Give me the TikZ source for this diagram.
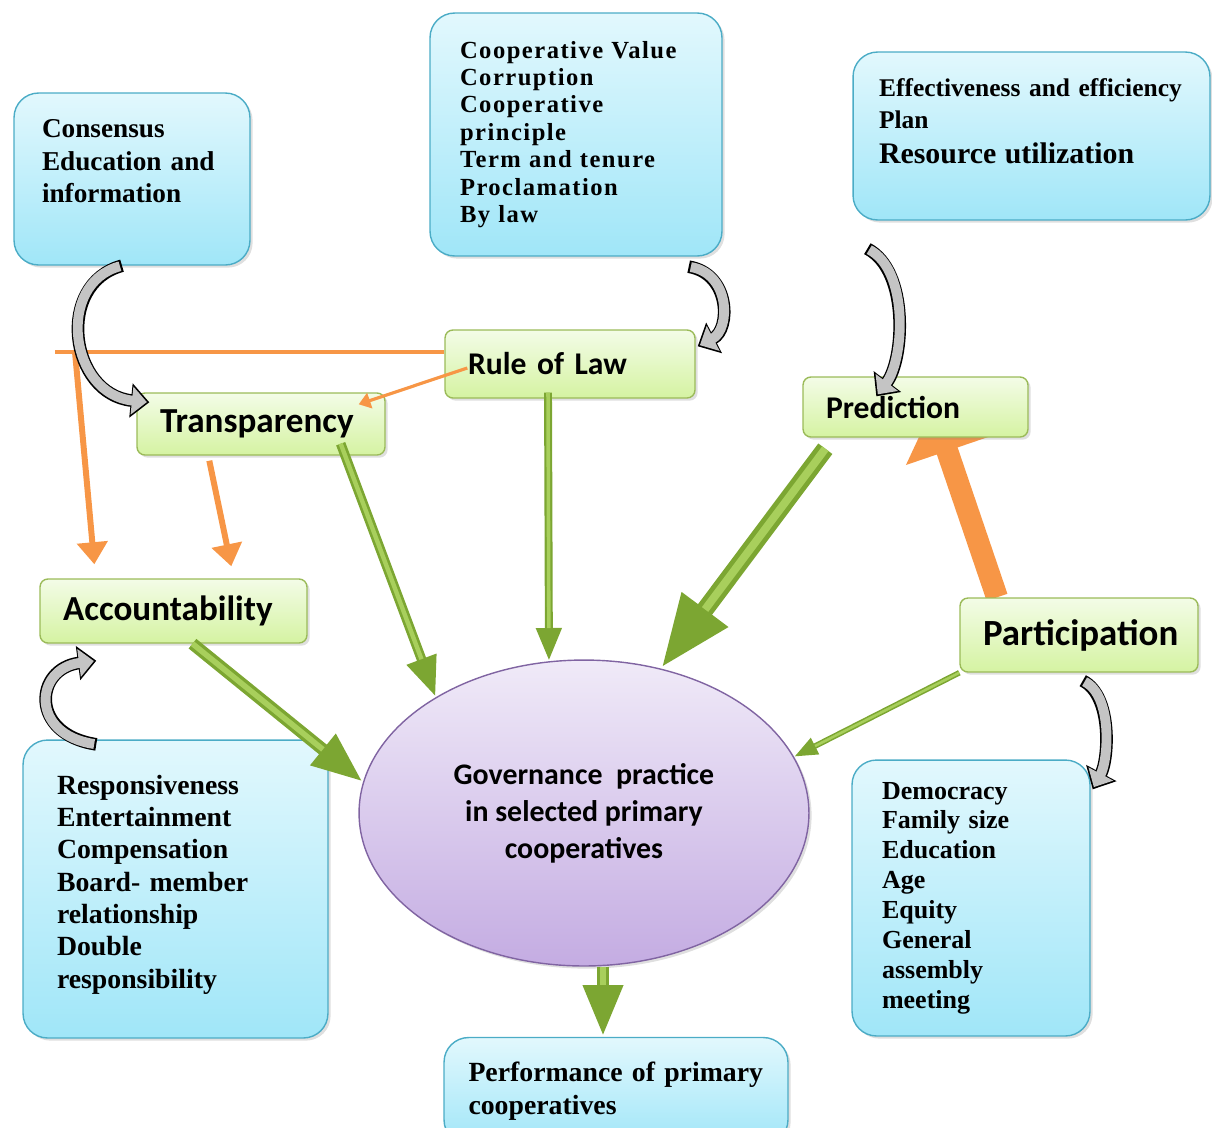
\documentclass[tikz,border=0pt]{standalone}
\usepackage{fontspec}
\setmainfont{Liberation Serif}
\newfontfamily\calibri{Carlito}
\newfontfamily\coopfont[LetterSpace=6]{Liberation Serif}
\usepackage{xcolor}
\definecolor{boxBlue}{HTML}{4BACC6}
\definecolor{blueTop}{HTML}{E2F8FD}
\definecolor{blueBottom}{HTML}{A0E6F8}
\definecolor{boxGreen}{HTML}{9BBB59}
\definecolor{greenTop}{HTML}{F3FCE7}
\definecolor{greenBottom}{HTML}{D5F3A2}
\definecolor{ovalPurple}{HTML}{8064A2}
\definecolor{purpleTop}{HTML}{F0EAF8}
\definecolor{purpleBottom}{HTML}{C4ACE2}
\definecolor{flowOrange}{HTML}{F79646}
\definecolor{arrowGreen}{HTML}{7CA632}
\definecolor{arrowLight}{HTML}{A8CF5C}
\definecolor{curlGray}{HTML}{C4C4C4}
\usetikzlibrary{shapes.geometric, shadows, arrows.meta, backgrounds}

\begin{document}
\begin{tikzpicture}[
        x=0.02cm, y=-0.02cm,
        factorBox/.style={
            draw=boxBlue,
            thick,
            top color=blueTop,
            bottom color=blueBottom,
            rounded corners=14pt,
            align=left,
            inner ysep=4pt,
            drop shadow={opacity=0.25, shadow xshift=1.5pt, shadow yshift=-1.5pt}
        },
        pillarNode/.style={
            draw=boxGreen,
            thick,
            top color=greenTop,
            bottom color=greenBottom,
            rounded corners=4.5pt,
            align=left,
            inner xsep=0.46cm,
            drop shadow={opacity=0.25, shadow xshift=1.5pt, shadow yshift=-1.5pt}
        },
        coreNode/.style={
            ellipse,
            draw=ovalPurple,
            thick,
            top color=purpleTop,
            bottom color=purpleBottom,
            minimum width=9cm,
            minimum height=6.12cm,
            align=center,
            font=\calibri\bfseries\fontsize{17}{21}\selectfont,
            drop shadow={opacity=0.25, shadow xshift=1.5pt, shadow yshift=-1.5pt}
        },
        greenArrow/.style={
            line width=#1,
            draw=arrowGreen,
            -{Triangle[width=0pt 3, length=0pt 4.2]},
            postaction={draw=arrowLight, line width=0.45*#1, shorten >=4.2*#1, -}
        },
        orangeArrow/.style={
            line width=#1,
            draw=flowOrange,
            -{Triangle[width=0pt 5, length=0pt 3.7]}
        },
        orangeLine/.style={
            line width=2.8pt,
            draw=flowOrange
        },
        curlArrow/.style={
            line width=5.6pt,
            draw=curlGray,
            shorten >=1.4pt,
            shorten <=1.2pt,
            -{Triangle[width=15.5pt, length=8.5pt]},
            preaction={draw=black, line width=7.2pt, shorten >=0pt, shorten <=0pt, -{Triangle[width=19pt, length=10.5pt]}}
        }
    ]
    \useasboundingbox (0,0) rectangle (1212,1127);

    % Factor boxes (explicit pixel positions)
    \node[factorBox, minimum width=4.72cm, minimum height=3.44cm, text width=3.6cm, inner xsep=0.56cm,
          font=\bfseries\fontsize{15.5}{18.7}\selectfont] (cons) at (132,179)
          {Consensus\\ Education and\\ information\\[1.7pt]\mbox{}};
    \node[factorBox, minimum width=5.84cm, minimum height=4.86cm, text width=4.64cm, inner xsep=0.6cm,
          font=\coopfont\bfseries\fontsize{14}{15.6}\selectfont] (coop) at (576,134.5)
          {Cooperative Value\\ Corruption\\ Cooperative\\ principle\\ Term and tenure\\ Proclamation\\ By law};
    \node[factorBox, minimum width=7.14cm, minimum height=3.36cm, text width=6.1cm, inner xsep=0.52cm,
          font=\bfseries\fontsize{14.5}{18.2}\selectfont] (effic) at (1031.5,136)
          {Effectiveness and efficiency\\ Plan\\[1.5pt] {\fontsize{17}{20}\selectfont Resource utilization}\\[-1pt]\mbox{}};
    \node[factorBox, minimum width=6.1cm, minimum height=5.96cm, text width=4.74cm, inner xsep=0.68cm,
          font=\bfseries\fontsize{15.8}{18.4}\selectfont] (resp) at (175.5,889)
          {Responsiveness\\ Entertainment\\ Compensation\\ Board- member\\ relationship\\ Double\\ responsibility\\[-10pt]\mbox{}};
    \node[factorBox, minimum width=4.76cm, minimum height=5.52cm, text width=3.56cm, inner xsep=0.6cm,
          font=\bfseries\fontsize{14.8}{17}\selectfont] (demo) at (971,898)
          {Democracy\\ Family size\\ Education\\ Age\\ Equity\\ General\\ assembly\\ meeting};
    \node[factorBox, minimum width=6.88cm, minimum height=2.14cm, text width=5.9cm, inner xsep=0.49cm,
          font=\bfseries\fontsize{15.8}{18.7}\selectfont] (perf) at (616,1091)
          {Performance of primary\\ cooperatives};

    % Governance principles
    \node[pillarNode, minimum width=5cm, minimum height=1.36cm, text width=4.08cm,
          font=\calibri\bfseries\fontsize{18}{20}\selectfont] (rule) at (570,364) {Rule of Law};
    \node[pillarNode, minimum width=4.96cm, minimum height=1.24cm, text width=4.04cm,
          font=\calibri\bfseries\fontsize{20}{22}\selectfont] (trans) at (261,424) {Transparency};
    \node[pillarNode, minimum width=4.5cm, minimum height=1.2cm, text width=3.58cm,
          font=\calibri\bfseries\fontsize{18}{20}\selectfont] (pred) at (915.5,407) {Prediction};
    \node[pillarNode, minimum width=5.34cm, minimum height=1.28cm, text width=4.42cm,
          font=\calibri\bfseries\fontsize{20}{22}\selectfont] (acc) at (173.5,611) {Accountability};
    \node[pillarNode, minimum width=4.76cm, minimum height=1.48cm, text width=3.84cm,
          font=\calibri\bfseries\fontsize{21}{23}\selectfont] (part) at (1079,635) {Participation};

    \node[coreNode] (gov) at (584,813) {Governance\ \ practice\\ in selected primary\\ cooperatives};

    \coordinate (lineEnd) at (55,352);
    \coordinate (lineDrop) at (75,352);

    % Orange links
    \begin{pgfonlayer}{background}
        \draw[line width=12.5pt, draw=flowOrange, -{Triangle[width=48pt, length=26pt]}]
            ([xshift=-1.64cm]part.north) -- ([xshift=0.34cm, yshift=0.6cm]pred.south);
    \end{pgfonlayer}
    \draw[orangeLine] (rule.west |- lineEnd) -- (lineEnd);
    \draw[orangeArrow=3.4pt] (lineDrop) -- ([xshift=1.1cm, yshift=0.28cm]acc.north west);
    \draw[orangeArrow=3.4pt] ([xshift=1.46cm, yshift=-0.1cm]trans.south west) -- ([xshift=3.84cm, yshift=0.24cm]acc.north west);
    \draw[orangeArrow=1.8pt] ([xshift=0.46cm, yshift=-0.08cm]rule.west) -- ([xshift=-0.54cm, yshift=-0.24cm]trans.north east);

    % Green links into the oval
    \draw[greenArrow=5.5pt] ([xshift=-0.9cm, yshift=0.24cm]trans.south east) -- (gov.142);
    \draw[greenArrow=4.5pt] ([xshift=-0.44cm, yshift=0.12cm]rule.south) -- (gov.103);
    \draw[greenArrow=10pt] ([xshift=0.46cm, yshift=-0.22cm]pred.south west) -- (gov.62);
    \draw[greenArrow=7pt] ([xshift=0.38cm]acc.south) -- (gov.172);
    \draw[greenArrow=3.2pt] (part.south west) -- (gov.15);
    \draw[greenArrow=7pt] ([xshift=0.38cm]gov.south) -- ([xshift=0.38cm]gov.south |- perf.north);

    % Curved gray arrows
    \draw[curlArrow] ([xshift=-0.2cm]cons.south) .. controls +(-67,18) and +(-80,-8) .. ([xshift=0.26cm, yshift=-0.2cm]trans.north west);
    \draw[curlArrow] ([xshift=-0.68cm, yshift=-0.2cm]coop.south east) .. controls +(42,7) and +(33,-17) .. ([xshift=0.04cm, yshift=-0.34cm]rule.north east);
    \draw[curlArrow] ([xshift=0.3cm, yshift=-0.56cm]effic.south west) .. controls +(42,22) and +(28,-37) .. ([xshift=1.48cm, yshift=-0.4cm]pred.north west);
    \draw[curlArrow] ([xshift=1.48cm, yshift=-0.1cm]resp.north west) .. controls +(-67,-10) and +(-62,8) .. ([xshift=1.14cm, yshift=-0.34cm]acc.south west);
    \draw[curlArrow] ([xshift=-2.32cm, yshift=-0.16cm]part.south east) .. controls +(30,15) and +(16,-30) .. ([xshift=0.04cm, yshift=-0.6cm]demo.north east);

\end{tikzpicture}
\end{document}
